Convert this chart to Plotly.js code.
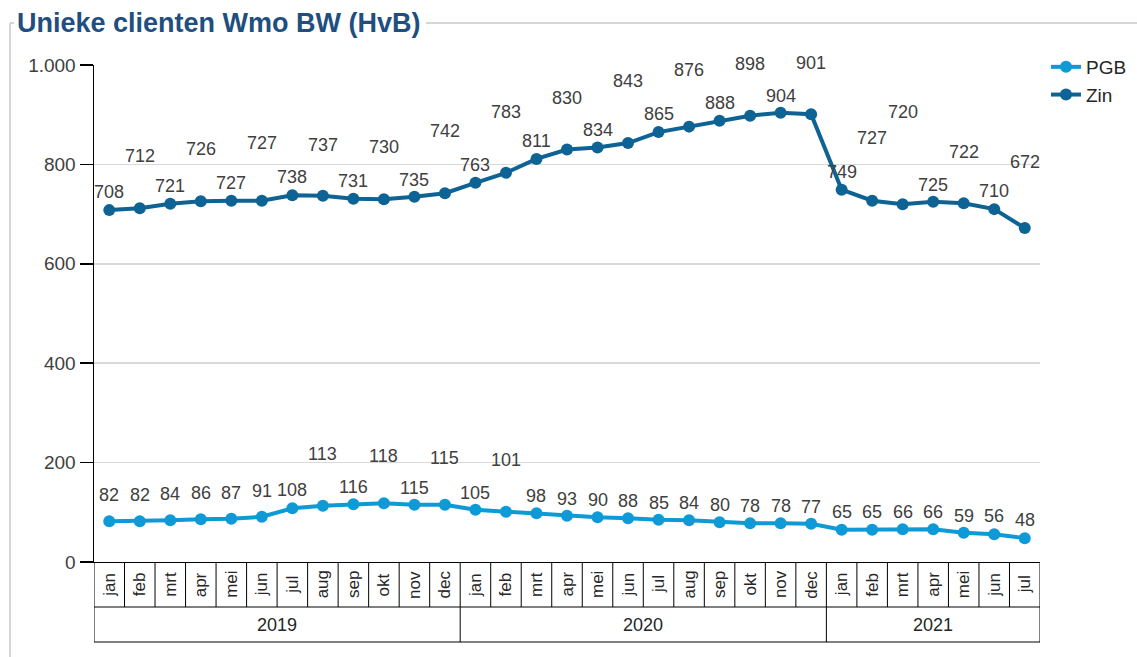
<!DOCTYPE html>
<html>
<head>
<meta charset="utf-8">
<script src="https://cdn.plot.ly/plotly-3.0.1.min.js"></script>
<style>
html,body{margin:0;padding:0;background:#fff;}
#chart{width:1137px;height:657px;}
</style>
</head>
<body>
<div id="chart"></div>
<script>
// ---- data ----
const months = ['jan','feb','mrt','apr','mei','jun','jul','aug','sep','okt','nov','dec',
                'jan','feb','mrt','apr','mei','jun','jul','aug','sep','okt','nov','dec',
                'jan','feb','mrt','apr','mei','jun','jul'];
const monthYears = ['2019','2019','2019','2019','2019','2019','2019','2019','2019','2019','2019','2019',
                    '2020','2020','2020','2020','2020','2020','2020','2020','2020','2020','2020','2020',
                    '2021','2021','2021','2021','2021','2021','2021'];
const pgb = [82,82,84,86,87,91,108,113,116,118,115,115,
             105,101,98,93,90,88,85,84,80,78,78,77,
             65,65,66,66,59,56,48];
const zin = [708,712,721,726,727,727,738,737,731,730,735,742,
             763,783,811,830,834,843,865,876,888,898,904,901,
             749,727,720,725,722,710,672];
const yTicks = [0,200,400,600,800,1000];

// ---- label placement (pixels above each point) ----
const pgbLabelShift = [26,26,26,26,26,26,18,52,17,47,17,47,
                       17,52,17,17,17,17,17,17,17,17,17,17,
                       18,18,17,17,17,18,18];
const zinLabelShift = [18,52,18,52,18,58,18,51,18,52,17,62,
                       18,61,18,51,18,62,18,57,18,52,17,51,
                       18,63,92,17,51,18,66];

// ---- styles ----
const PGB_COLOR = '#0e9ad7';
const ZIN_COLOR = '#0d6394';
const FONT = 'Liberation Sans, Arial, sans-serif';
const plotH = 497;               // plot area height in px
const plotW = 946;               // plot area width in px
const row1 = -45 / plotH;        // bottom of month row (paper)
const row2 = -80 / plotH;        // bottom of year row (paper)

const idx = months.map((m, i) => i);

const traces = [
  {x: idx, y: pgb, name: 'PGB', type: 'scatter', mode: 'lines+markers',
   line: {color: PGB_COLOR, width: 4}, marker: {color: PGB_COLOR, size: 12},
   cliponaxis: false, hoverinfo: 'y'},
  {x: idx, y: zin, name: 'Zin', type: 'scatter', mode: 'lines+markers',
   line: {color: ZIN_COLOR, width: 4}, marker: {color: ZIN_COLOR, size: 12},
   cliponaxis: false, hoverinfo: 'y'}
];

const annotations = [];
// data labels
pgb.forEach((v, i) => annotations.push({x: i, y: v, xref: 'x', yref: 'y', text: String(v),
  showarrow: false, yshift: pgbLabelShift[i], yanchor: 'middle',
  font: {family: FONT, size: 18, color: '#404040'}}));
zin.forEach((v, i) => annotations.push({x: i, y: v, xref: 'x', yref: 'y', text: String(v),
  showarrow: false, yshift: zinLabelShift[i], yanchor: 'middle',
  font: {family: FONT, size: 18, color: '#404040'}}));
// month labels
months.forEach((m, i) => annotations.push({x: i, y: row1 / 2, xref: 'x', yref: 'paper', text: m,
  showarrow: false, textangle: -90, xanchor: 'center', yanchor: 'middle',
  font: {family: FONT, size: 17, color: '#262626'}}));

// year groups
const groups = [];
monthYears.forEach((y, i) => {
  if (!groups.length || groups[groups.length - 1].year !== y) groups.push({year: y, start: i, end: i});
  else groups[groups.length - 1].end = i;
});
groups.forEach(g => annotations.push({x: (g.start + g.end) / 2, y: (row1 + row2) / 2, xref: 'x', yref: 'paper',
  text: g.year, showarrow: false, xanchor: 'center', yanchor: 'middle',
  font: {family: FONT, size: 18, color: '#262626'}}));

// table shapes
const shapes = [];
const lineStyle = {color: '#000000', width: 1};
const xMin = -0.5, xMax = months.length - 0.5;
for (let i = 0; i < months.length - 1; i++) {
  const yearBreak = monthYears[i] !== monthYears[i + 1];
  shapes.push({type: 'line', xref: 'x', yref: 'paper', x0: i + 0.5, x1: i + 0.5,
    y0: 0, y1: yearBreak ? row2 : row1, line: lineStyle});
}
shapes.push({type: 'line', xref: 'x', yref: 'paper', x0: xMin, x1: xMin, y0: 0, y1: row2, line: lineStyle});
shapes.push({type: 'line', xref: 'x', yref: 'paper', x0: xMax, x1: xMax, y0: 0, y1: row2, line: lineStyle});
shapes.push({type: 'line', xref: 'x', yref: 'paper', x0: xMin, x1: xMax, y0: row1, y1: row1, line: lineStyle});
shapes.push({type: 'line', xref: 'x', yref: 'paper', x0: xMin, x1: xMax, y0: row2, y1: row2, line: lineStyle});

// outer frame around chart (group box style)
const frameColor = '#c9c9c9';
const fy = (562 - 23) / plotH;
shapes.push({type: 'line', xref: 'paper', yref: 'paper', x0: (10 - 94) / plotW, x1: (10 - 94) / plotW,
  y0: fy, y1: (562 - 660) / plotH, line: {color: frameColor, width: 1.5}});
shapes.push({type: 'line', xref: 'paper', yref: 'paper', x0: (10 - 94) / plotW, x1: (14 - 94) / plotW,
  y0: fy, y1: fy, line: {color: frameColor, width: 1.5}});
shapes.push({type: 'line', xref: 'paper', yref: 'paper', x0: (426 - 94) / plotW, x1: (1140 - 94) / plotW,
  y0: fy, y1: fy, line: {color: frameColor, width: 1.5}});

const layout = {
  width: 1137, height: 657,
  margin: {l: 94, r: 97, t: 65, b: 95, pad: 0, autoexpand: false},
  paper_bgcolor: '#ffffff', plot_bgcolor: '#ffffff',
  separators: ',.',
  font: {family: FONT, size: 18, color: '#404040'},
  title: {text: 'Unieke clienten Wmo BW (HvB)', xref: 'container', yref: 'container',
    x: 17 / 1137, xanchor: 'left', y: 1 - 23 / 657, yanchor: 'middle',
    font: {family: FONT, size: 27, color: '#1f4e80', weight: 'bold'}},
  xaxis: {range: [xMin, xMax], showticklabels: false, showgrid: false, zeroline: false,
    showline: true, linecolor: '#000000', linewidth: 1, ticks: '', fixedrange: true},
  yaxis: {range: [0, 1000], tickvals: yTicks, tickformat: ',', showgrid: true, gridcolor: '#d9d9d9',
    gridwidth: 1.5, zeroline: false, showline: true, linecolor: '#000000', linewidth: 1.5,
    ticks: 'outside', ticklen: 13, tickwidth: 1.5, tickcolor: '#000000',
    tickfont: {family: FONT, size: 19, color: '#404040'}, fixedrange: true},
  legend: {x: (1046 - 94) / plotW, xanchor: 'left', y: (562 - 48) / plotH, yanchor: 'top',
    bgcolor: 'rgba(0,0,0,0)', font: {family: FONT, size: 19, color: '#262626'},
    tracegroupgap: 0, itemwidth: 30},
  showlegend: true,
  annotations: annotations,
  shapes: shapes
};

Plotly.newPlot('chart', traces, layout, {displayModeBar: false, staticPlot: true});
</script>
</body>
</html>
